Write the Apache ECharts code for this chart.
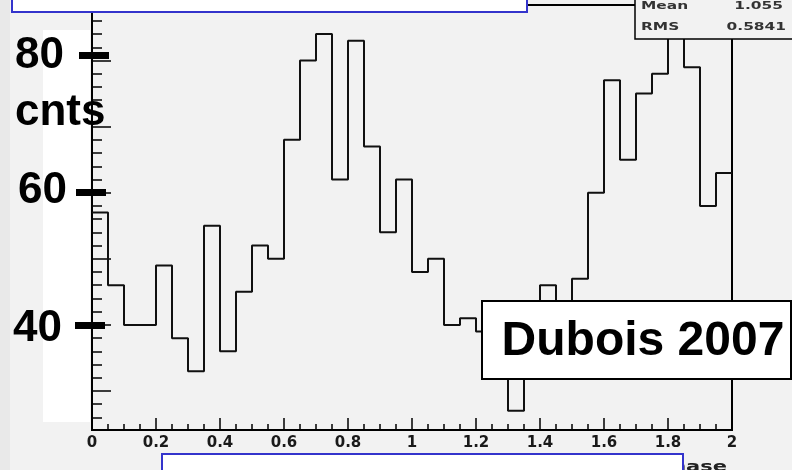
<!DOCTYPE html>
<html>
<head>
<meta charset="utf-8">
<script src="https://cdn.jsdelivr.net/npm/echarts@6/dist/echarts.min.js"></script>
<style>
  html, body { margin: 0; padding: 0; background: #f2f2f2; }
  #chart { width: 792px; height: 470px; }
</style>
</head>
<body>
<div id="chart"></div>
<script>
// histogram: 40 bins over phase 0..2
const binWidth = 0.05;
const counts = [57, 46, 40, 40, 49, 38, 33, 55, 36, 45,
                52, 50, 68, 80, 84, 62, 83, 67, 54, 62,
                48, 50, 40, 41, 39, 37, 27, 36, 46, 40,
                47, 60, 77, 65, 75, 78, 86, 79, 58, 63];
const xTickLabels = ['0', '0.2', '0.4', '0.6', '0.8', '1', '1.2', '1.4', '1.6', '1.8', '2'];
const yMajorTicks = [30, 40, 50, 60, 70, 80];
const yMinorTicks = [26, 28, 32, 34, 36, 38, 42, 44, 46, 48, 52, 54, 56, 58,
                     62, 64, 66, 68, 72, 74, 76, 78, 82, 84, 86, 88];
const bigLabels = ['80', 'cnts', '60', '40'];
const statNames = ['Mean', 'RMS'];
const statValues = ['1.055', '0.5841'];

// step outline points: low edge of every bin, plus the closing edge
const stepData = counts.map((c, i) => [i * binWidth, c]);
stepData.push([counts.length * binWidth, counts[counts.length - 1]]);

const chart = echarts.init(document.getElementById('chart'));

const overlay = [
  // left strip and white panel behind the hand-made labels
  { type: 'rect', z: 100, shape: { x: 0, y: 0, width: 10, height: 470 }, style: { fill: '#e9e9e9' } },
  { type: 'rect', z: 100, shape: { x: 43, y: 30, width: 47, height: 392 }, style: { fill: '#ffffff' } },
  { type: 'text', z: 101, x: 15, y: 56, style: { text: bigLabels[0], font: 'bold 44px "Liberation Sans"', fill: '#000', verticalAlign: 'middle' } },
  { type: 'text', z: 101, x: 15, y: 113, style: { text: bigLabels[1], font: 'bold 44px "Liberation Sans"', fill: '#000', verticalAlign: 'middle' } },
  { type: 'text', z: 101, x: 18, y: 191, style: { text: bigLabels[2], font: 'bold 44px "Liberation Sans"', fill: '#000', verticalAlign: 'middle' } },
  { type: 'text', z: 101, x: 13, y: 329, style: { text: bigLabels[3], font: 'bold 44px "Liberation Sans"', fill: '#000', verticalAlign: 'middle' } },
  { type: 'rect', z: 102, shape: { x: 79, y: 52, width: 30, height: 7 }, style: { fill: '#000' } },
  { type: 'rect', z: 102, shape: { x: 76, y: 189, width: 30, height: 7 }, style: { fill: '#000' } },
  { type: 'rect', z: 102, shape: { x: 75, y: 322, width: 30, height: 7 }, style: { fill: '#000' } },

  // stats box (top right)
  { type: 'rect', z: 100, shape: { x: 635, y: -10, width: 165, height: 49 }, style: { fill: '#f2f2f2', stroke: '#000', lineWidth: 1.5 } },
  { type: 'text', z: 101, x: 641, y: 6, scaleX: 1.4, style: { text: statNames[0], font: 'bold 11px "DejaVu Sans"', fill: '#333', verticalAlign: 'middle' } },
  { type: 'text', z: 101, x: 783, y: 6, scaleX: 1.4, style: { text: statValues[0], font: 'bold 11px "DejaVu Sans"', fill: '#333', align: 'right', verticalAlign: 'middle' } },
  { type: 'text', z: 101, x: 641, y: 27, scaleX: 1.4, style: { text: statNames[1], font: 'bold 11px "DejaVu Sans"', fill: '#333', verticalAlign: 'middle' } },
  { type: 'text', z: 101, x: 786, y: 27, scaleX: 1.4, style: { text: statValues[1], font: 'bold 11px "DejaVu Sans"', fill: '#333', align: 'right', verticalAlign: 'middle' } },

  // axis title, mostly covered by the blue box
  { type: 'text', z: 100, x: 727, y: 460, scaleX: 1.5, style: { text: 'phase', font: 'bold 14px "DejaVu Sans"', fill: '#222', align: 'right', verticalAlign: 'top' } },

  // blue boxes (top and bottom)
  { type: 'rect', z: 103, shape: { x: 12, y: -10, width: 515, height: 22 }, style: { fill: '#ffffff', stroke: '#3434cc', lineWidth: 2 } },
  { type: 'rect', z: 103, shape: { x: 162, y: 454, width: 521, height: 30 }, style: { fill: '#ffffff', stroke: '#3434cc', lineWidth: 2 } },

  // Dubois 2007 label
  { type: 'rect', z: 103, shape: { x: 482, y: 301, width: 309, height: 78 }, style: { fill: '#ffffff', stroke: '#000', lineWidth: 2 } },
  { type: 'text', z: 104, x: 643, y: 342, style: { text: 'Dubois 2007', font: 'bold 48px "Liberation Sans"', fill: '#000', align: 'center', verticalAlign: 'middle' } }
];

chart.setOption({
  backgroundColor: '#f2f2f2',
  animation: false,
  grid: {
    left: 92, right: 60, top: 5, bottom: 40,
    show: true, borderColor: '#000', borderWidth: 2, backgroundColor: 'transparent'
  },
  xAxis: {
    type: 'value', min: 0, max: 2, interval: 0.2,
    axisLine: { show: true, lineStyle: { color: '#000', width: 2 } },
    axisTick: { show: true, inside: true, length: 12, lineStyle: { color: '#000', width: 1.5 } },
    minorTick: { show: true, splitNumber: 4, length: 6, lineStyle: { color: '#000', width: 1.5 } },
    splitLine: { show: false },
    axisLabel: {
      margin: 6, color: '#1a1a1a', fontFamily: 'DejaVu Sans', fontWeight: 'bold', fontSize: 15,
      formatter: (v, i) => xTickLabels[i]
    }
  },
  yAxis: [{
    type: 'value', min: 24.1, max: 88.4,
    axisLine: { show: true, lineStyle: { color: '#000', width: 2 } },
    axisTick: { show: true, inside: true, length: 19, customValues: yMajorTicks, lineStyle: { color: '#000', width: 1.5 } },
    axisLabel: { show: false },
    splitLine: { show: false }
  }, {
    type: 'value', min: 24.1, max: 88.4, position: 'left',
    axisLine: { show: false },
    axisTick: { show: true, inside: true, length: 10, customValues: yMinorTicks, lineStyle: { color: '#000', width: 1.5 } },
    axisLabel: { show: false },
    splitLine: { show: false }
  }],
  graphic: overlay,
  series: [{
    type: 'line',
    step: 'end',
    data: stepData,
    yAxisIndex: 0,
    showSymbol: false,
    lineStyle: { color: '#111', width: 2 }
  }]
});
</script>
</body>
</html>
